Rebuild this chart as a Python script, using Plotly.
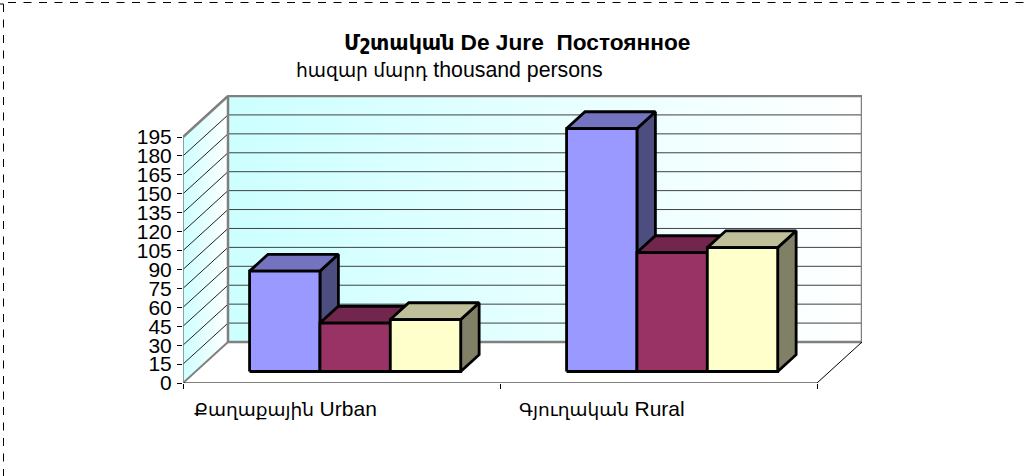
import plotly.graph_objects as go

categories_hy = ["Քաղաքային", "Գյուղական"]
categories_en = ["Urban", "Rural"]
total_values = [79.6, 192.6]
male_values = [38.4, 94.3]
female_values = [41.2, 98.2]
y_ticks = list(range(0, 196, 15))
title_hy = "Մշտական"
title_rest = "De Jure  Постоянное"
subtitle_hy = "հազար մարդ"
subtitle_en = "thousand persons"

W, H = 1030, 476
L, R, T, B = 183, 862, 95, 383
PX_CAT = 317.0
PX_VAL = 246 / 195
DX = 45 / PX_CAT
DY = 41 / PX_VAL
XMAX = (R - L) / PX_CAT
YMAX = (B - T) / PX_VAL
GRID_TOP = y_ticks[-1]
FONT = "Liberation Sans, DejaVu Sans, Arial, sans-serif"
D0, D1 = 0.28, 0.69
BAR_START, BAR_W = 0.21, 0.222
BAR_LINE = 2.8

series = [
    (total_values, "#9999FF", "#7373BF", "#4D4D80"),
    (male_values, "#993366", "#73264D", "#4D1A33"),
    (female_values, "#FFFFCC", "#BFBF99", "#808066"),
]

fig = go.Figure()


def poly(xs, ys, fill=None, line="#000000", width=1.0, gradient=False):
    kw = dict(x=xs, y=ys, mode="lines", hoverinfo="skip", showlegend=False,
              cliponaxis=False, line=dict(color=line, width=width))
    if gradient:
        kw["fill"] = "toself"
        kw["fillgradient"] = dict(type="horizontal",
                                  colorscale=[[0, "#CCFFFF"], [1, "#FFFFFF"]])
    elif fill:
        kw["fill"] = "toself"
        kw["fillcolor"] = fill
    fig.add_trace(go.Scatter(**kw))


def two_sizes(a, size_a, b, size_b):
    return f'<span style="font-size:{size_a}px">{a}</span> <span style="font-size:{size_b}px">{b}</span>'


GREY = "#808080"
# walls
poly([0, DX, DX, 0, 0], [0, DY, GRID_TOP + DY, GRID_TOP, 0], gradient=True, line=GREY, width=0.1)
poly([DX, 2 + DX, 2 + DX, DX, DX], [DY, DY, GRID_TOP + DY, GRID_TOP + DY, DY], gradient=True, line=GREY, width=0.1)
# grid lines
for v in y_ticks[1:-1]:
    poly([0, DX], [v, v + DY], line="#222222", width=1)
    poly([DX, 2 + DX], [v + DY, v + DY], line="#404040", width=1)
# wall edges
poly([0, DX, DX], [GRID_TOP, GRID_TOP + DY, DY], line=GREY, width=2.5)
poly([0, DX], [0, DY], line=GREY, width=2)
poly([DX, 2 + DX, 2 + DX, DX], [GRID_TOP + DY, GRID_TOP + DY, DY, DY], line=GREY, width=2.5)
# floor edge and axes
poly([2, 2 + DX], [0, DY], line="#000000", width=1)
poly([0, 2], [0, 0], line="#000000", width=1)
poly([0, 0], [0, GRID_TOP], line="#808080", width=1.5)

# bars
for c in range(len(categories_hy)):
    for s, (vals, front, top, side) in enumerate(series):
        x0 = c + BAR_START + s * BAR_W
        x1 = x0 + BAR_W
        v = vals[c]
        depth = (D1 - D0) * DX
        fb, ft = D0 * DY, v + D0 * DY
        bb, bt = D1 * DY, v + D1 * DY
        poly([x1, x1 + depth, x1 + depth, x1, x1], [fb, bb, bt, ft, fb], fill=side, width=BAR_LINE)
        poly([x0, x0 + depth, x1 + depth, x1, x0], [ft, bt, bt, ft, ft], fill=top, width=BAR_LINE)
        poly([x0, x1, x1, x0, x0], [fb, fb, ft, ft, fb], fill=front, width=BAR_LINE)

annotations = [
    dict(x=i + 0.322, y=0, xref="x", yref="y", yshift=-25,
         text=two_sizes(hy, 18.5, en, 21), showarrow=False,
         xanchor="center", yanchor="middle", font=dict(family=FONT, size=20, color="#000000"))
    for i, (hy, en) in enumerate(zip(categories_hy, categories_en))
]


def px(x):
    return (x - L) / (R - L)


def py(y):
    return (B - y) / (B - T)


annotations.append(dict(x=px(516.5), y=py(42), xref="paper", yref="paper",
                        text="<b>" + two_sizes(title_hy, 20.6, title_rest, 22.7) + "</b>",
                        showarrow=False, xanchor="center", yanchor="middle",
                        font=dict(family=FONT, size=22, color="#000000")))
annotations.append(dict(x=px(449.5), y=py(70), xref="paper", yref="paper",
                        text=two_sizes(subtitle_hy, 18.7, subtitle_en, 21.3),
                        showarrow=False, xanchor="center", yanchor="middle",
                        font=dict(family=FONT, size=21, color="#000000")))

dash = dict(color="#000000", width=1, dash="8px,7.5px")
solid = dict(color="#000000", width=1)
shapes = [
    dict(type="line", xref="paper", yref="paper", x0=px(8), x1=px(W), y0=py(2.5), y1=py(2.5), line=dash),
    dict(type="line", xref="paper", yref="paper", x0=px(3.5), x1=px(3.5), y0=py(4), y1=py(H), line=dash),
    dict(type="line", xref="paper", yref="paper", x0=px(0), x1=px(3.5), y0=py(4), y1=py(4), line=solid),
]

fig.update_layout(
    width=W, height=H, autosize=False,
    margin=dict(l=L, r=W - R, t=T, b=H - B, pad=0),
    paper_bgcolor="#FFFFFF", plot_bgcolor="#FFFFFF",
    showlegend=False, annotations=annotations, shapes=shapes,
    xaxis=dict(range=[0, XMAX], tickvals=[0, 1, 2], ticktext=["", "", ""], ticks="outside", ticklen=5,
               tickcolor="#000000", showgrid=False, zeroline=False, showline=False, fixedrange=True),
    yaxis=dict(range=[0, YMAX], tickvals=y_ticks, ticktext=[str(v) for v in y_ticks], ticks="outside",
               ticklen=5, tickcolor="#000000", showgrid=False, zeroline=False, showline=False, fixedrange=True,
               ticklabelstandoff=1, tickfont=dict(family=FONT, size=21, color="#000000")),
)
fig.write_html("out.html", post_script="document.body.style.margin='0';", config=dict(displayModeBar=False))
